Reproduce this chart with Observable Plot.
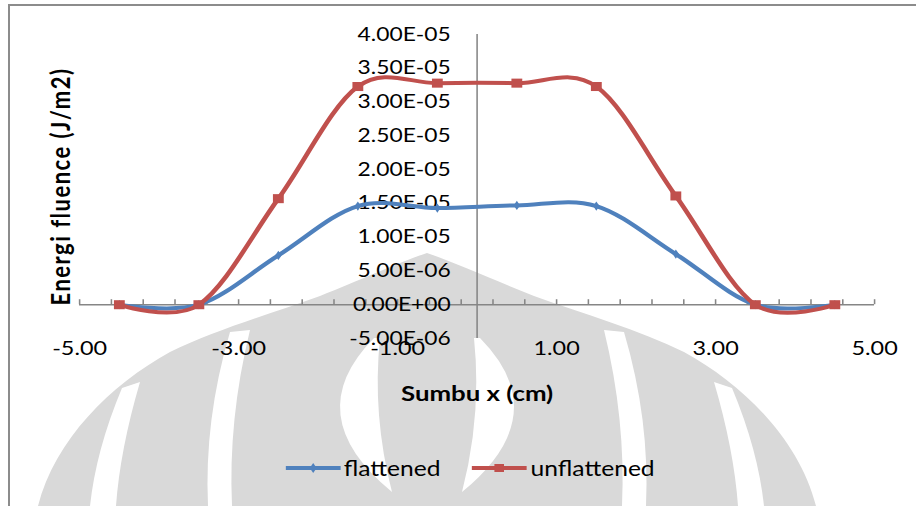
<!DOCTYPE html>
<html>
<head>
<meta charset="utf-8">
<script src="https://cdn.jsdelivr.net/npm/d3@7"></script>
<script src="https://cdn.jsdelivr.net/npm/@observablehq/plot@0.6"></script>
<style>
  html, body { margin: 0; padding: 0; background: #fff; overflow: hidden; }
  #wrap { position: relative; width: 916px; height: 506px; font-family: Lato, "Open Sans", sans-serif; overflow: hidden; }
  #frame { position: absolute; left: 8px; top: 4px; width: 930px; height: 520px;
           border-top: 2px solid #8c8c8c; border-left: 2px solid #8c8c8c; box-sizing: border-box; }
  #mark { position: absolute; left: 0; top: 0; }
  /* the chart is laid out on a narrower canvas and widened to the full frame */
  #stretch { position: absolute; left: 0; top: 0; width: 763.33px; height: 506px;
             transform: scaleX(1.2); transform-origin: 0 0; }
  #chart { position: absolute; left: 0; top: 0; }
  #legend { position: absolute; left: 237.5px; top: 455px; display: flex; align-items: center;
            font-size: 20.5px; color: #000; }
  #legend .item { display: flex; align-items: center; }
  #legend .item + .item { margin-left: 26px; }
  #legend span { margin-left: 3px; line-height: 26px; }
</style>
</head>
<body>
<div id="wrap">
  <!-- faint logo watermark behind the chart -->
  <svg id="mark" width="916" height="506" viewBox="0 0 916 506">
    <g fill="#d9d9d9">
      <path d="M427,253 C400,262 360,280 320,296 C270,314 215,330 170,352 C110,385 55,440 38,506
               L816,506 C799,440 744,385 684,352 C639,330 584,314 534,296 C494,280 454,262 427,253 Z"/>
    </g>
    <g fill="#ffffff">
      <path d="M374,338 Q298,415 392,492 Q372,415 380,338 Z"/>
      <path d="M480,338 Q556,415 462,492 Q482,415 474,338 Z"/>
      <path d="M230,332 Q204,420 208,506 L232,506 Q228,420 250,330 Z"/>
      <path d="M624,332 Q650,420 646,506 L622,506 Q626,420 604,330 Z"/>
      <path d="M122,388 Q96,450 90,506 L116,506 Q120,450 140,382 Z"/>
      <path d="M732,388 Q758,450 764,506 L738,506 Q734,450 714,382 Z"/>
    </g>
  </svg>
  <div id="frame"></div>
  <div id="stretch">
    <div id="chart"></div>
    <div id="legend"></div>
  </div>
</div>
<script>
// Beam profile: energy fluence across the x axis
const positions = [-4.5, -3.5, -2.5, -1.5, -0.5, 0.5, 1.5, 2.5, 3.5, 4.5];
const flattened = [0, 0, 0.73e-5, 1.46e-5, 1.43e-5, 1.47e-5, 1.46e-5, 0.75e-5, 0, 0];
const unflattened = [0, 0, 1.57e-5, 3.23e-5, 3.28e-5, 3.28e-5, 3.23e-5, 1.61e-5, 0, 0];

const yTickValues = [4e-5, 3.5e-5, 3e-5, 2.5e-5, 2e-5, 1.5e-5, 1e-5, 5e-6, 0, -5e-6];
const xTickLabels = [-5, -3, -1, 1, 3, 5];
const xMinorStep = 0.4;

const seriesNames = ["flattened", "unflattened"];
const seriesColors = ["#4F81BD", "#C0504D"];
const seriesSymbols = ["diamond", "square"];

const rows = [];
positions.forEach((x, i) => {
  rows.push({x, y: flattened[i], series: seriesNames[0]});
  rows.push({x, y: unflattened[i], series: seriesNames[1]});
});
const blueRows = rows.filter(d => d.series === seriesNames[0]);
const redRows = rows.filter(d => d.series === seriesNames[1]);

// scientific labels in the style 4.00E-05
function sci(v) {
  const [m, e] = v.toExponential(2).split("e");
  const sign = e[0] === "-" ? "-" : "+";
  const digits = e.replace(/^[+-]/, "").padStart(2, "0");
  return `${m}E${sign}${digits}`;
}

const xTicks = d3.range(0, 26).map(i => -5 + i * xMinorStep);
const axisColor = "#868686";

const chart = Plot.plot({
  width: 763.33,
  height: 506,
  marginLeft: 65.83,
  marginRight: 35,
  marginTop: 34,
  marginBottom: 168,
  x: {domain: [-5, 5], axis: null},
  y: {domain: [-5e-6, 4e-5], axis: null},
  style: {background: "transparent", fontFamily: "Lato, 'Open Sans', sans-serif", color: "#000"},
  marks: [
    // axes crossing at the origin
    Plot.ruleY([0], {x1: -5, x2: 5, stroke: axisColor, strokeWidth: 1.5}),
    Plot.ruleX(xTicks, {x: d => d, y1: 0, y2: 0, insetTop: -5, stroke: axisColor, strokeWidth: 1.3}),
    Plot.ruleX([0], {y1: -5e-6, y2: 4e-5, stroke: axisColor, strokeWidth: 1.3}),
    // tick labels
    Plot.text(yTickValues, {x: 0, y: d => d, text: sci, textAnchor: "end", dx: -22, fontSize: 19, fill: "#000"}),
    Plot.text(xTickLabels, {x: d => d, y: -5e-6, dy: 10, text: d => d.toFixed(2), fontSize: 19.5, fill: "#000"}),
    // axis titles
    Plot.text(["Sumbu x (cm)"], {frameAnchor: "bottom", dy: 63, text: d => d, fontSize: 21.5, fontWeight: "bold", fill: "#000"}),
    Plot.text(["Energi fluence (J/m2)"], {frameAnchor: "left", textAnchor: "middle", dx: -15, rotate: -90, text: d => d,
      fontSize: 22, fontWeight: "bold", fill: "#000"}),
    // smoothed series
    Plot.line(blueRows, {x: "x", y: "y", stroke: seriesColors[0], strokeWidth: 4, curve: "cardinal"}),
    Plot.line(redRows, {x: "x", y: "y", stroke: seriesColors[1], strokeWidth: 4, curve: "cardinal"}),
    Plot.dot(blueRows, {x: "x", y: "y", symbol: seriesSymbols[0], r: 2.8, fill: seriesColors[0]}),
    Plot.dot(redRows, {x: "x", y: "y", symbol: seriesSymbols[1], r: 5.1, fill: seriesColors[1]})
  ]
});
document.getElementById("chart").append(chart);
// letter spacing on the rotated title
d3.select(chart).selectAll("text").filter(function() { return this.textContent.startsWith("Energi"); })
  .style("letter-spacing", "1.5px");

// legend below the chart
const legend = d3.select("#legend");
seriesNames.forEach((name, i) => {
  const item = legend.append("div").attr("class", "item");
  const sw = item.append("svg").attr("width", 46).attr("height", 14);
  sw.append("line").attr("x1", 0).attr("x2", 46).attr("y1", 7).attr("y2", 7)
    .attr("stroke", seriesColors[i]).attr("stroke-width", 4);
  sw.append("path")
    .attr("transform", "translate(23,7)")
    .attr("d", d3.symbol(i === 0 ? d3.symbolDiamond : d3.symbolSquare, i === 0 ? 28 : 64)())
    .attr("fill", seriesColors[i]);
  item.append("span").text(name);
});
</script>
</body>
</html>
